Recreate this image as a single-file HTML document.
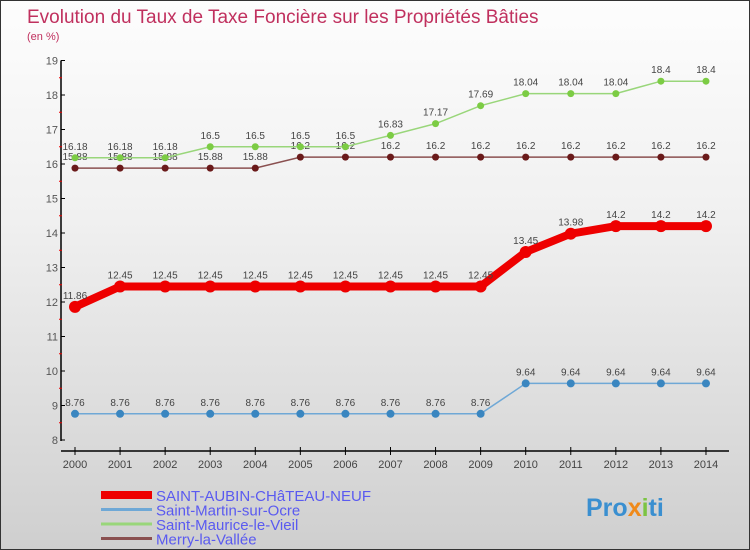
<!DOCTYPE html>
<html><head><meta charset="utf-8"><style>
body{margin:0}
#c{width:748px;height:548px;border:1px solid #333;background:linear-gradient(#fdfdfd,#f0f0f0 40%,#cfcfcf);position:relative;overflow:hidden;font-family:"Liberation Sans",sans-serif}
text{font-family:"Liberation Sans",sans-serif}
</style></head><body>
<div id="c">
<svg id="s" width="748" height="548" style="position:absolute;left:0;top:0">
<text x="26" y="22" font-size="19" fill="#c0305e">Evolution du Taux de Taxe Foncière sur les Propriétés Bâties</text>
<text x="26" y="39" font-size="11" fill="#c0305e">(en %)</text>
<g id="g"></g>
</svg>
</div>
<script>
const years=[2000,2001,2002,2003,2004,2005,2006,2007,2008,2009,2010,2011,2012,2013,2014];
const yTicks=[8,9,10,11,12,13,14,15,16,17,18,19];
const saintAubin=[11.86,12.45,12.45,12.45,12.45,12.45,12.45,12.45,12.45,12.45,13.45,13.98,14.2,14.2,14.2];
const saintMartin=[8.76,8.76,8.76,8.76,8.76,8.76,8.76,8.76,8.76,8.76,9.64,9.64,9.64,9.64,9.64];
const saintMaurice=[16.18,16.18,16.18,16.5,16.5,16.5,16.5,16.83,17.17,17.69,18.04,18.04,18.04,18.4,18.4];
const merry=[15.88,15.88,15.88,15.88,15.88,16.2,16.2,16.2,16.2,16.2,16.2,16.2,16.2,16.2,16.2];
const names=["SAINT-AUBIN-CHâTEAU-NEUF","Saint-Martin-sur-Ocre","Saint-Maurice-le-Vieil","Merry-la-Vallée"];
const NS="http://www.w3.org/2000/svg";const g=document.getElementById('g');
const X=i=>74+i*45.07, Y=v=>439-(v-8)*34.5;
function el(t,a,p){const e=document.createElementNS(NS,t);for(const k in a)e.setAttribute(k,a[k]);(p||g).appendChild(e);return e;}
let ax=el('line',{x1:60,y1:Y(19),x2:60,y2:440,stroke:'#000','stroke-width':1.5});


let bx=el('line',{x1:60,y1:450,x2:728,y2:450,stroke:'#000','stroke-width':1.5});


yTicks.forEach(v=>{el('line',{x1:60,y1:Y(v),x2:64,y2:Y(v),stroke:'#000'});
 if(v<19)el('line',{x1:58,y1:Y(v+0.5),x2:61,y2:Y(v+0.5),stroke:'#e00'});
 const t=el('text',{x:57,y:Y(v)+4,'font-size':11,fill:'#555','text-anchor':'end'});t.textContent=v;
 
 });
years.forEach((yr,i)=>{el('line',{x1:X(i),y1:446,x2:X(i),y2:454,stroke:'#000'});
 const t=el('text',{x:X(i),y:467,'font-size':11,fill:'#444','text-anchor':'middle'});t.textContent=yr;
 
 });
function series(d,col,lw,r,fc,nm){
 const p=el('polyline',{points:d.map((v,i)=>X(i)+','+Y(v)).join(' '),fill:'none',stroke:col,'stroke-width':lw});
 
 
 d.forEach((v,i)=>{const c=el('circle',{cx:X(i),cy:Y(v),r:r,fill:fc});
  
  
  const t=el('text',{x:X(i),y:Y(v)-8,'font-size':10,fill:'#444','text-anchor':'middle'});t.textContent=v;
  
  });
}
series(merry,'#8a5050',1.5,3.5,'#6a1a1a','merry');
series(saintMaurice,'#99d67a',1.5,3.5,'#7ccc44','saint-maurice');
series(saintMartin,'#6fa8d6',1.5,4,'#3a86c0','saint-martin');
series(saintAubin,'#ee0000',8,6,'#ee0000','saint-aubin');
const lc=['#ee0000','#6fa8d6','#99d67a','#8a5050'],lw=[8,3,3,3];
names.forEach((n,i)=>{const y=494+i*14.5;
 const l=el('line',{x1:100,y1:y,x2:151,y2:y,stroke:lc[i],'stroke-width':lw[i]});
 
 
 const t=el('text',{x:155,y:y+6,'font-size':15,fill:'#5a5af0'});t.textContent=n;
 
 });
const lg=el('text',{x:585,y:515,'font-size':25,'font-weight':'bold',fill:'#3a8fd0'});


lg.innerHTML='Pro<tspan fill="#f08a1a">x</tspan><tspan fill="#7cc443">i</tspan>ti';
</script>
</body></html>
